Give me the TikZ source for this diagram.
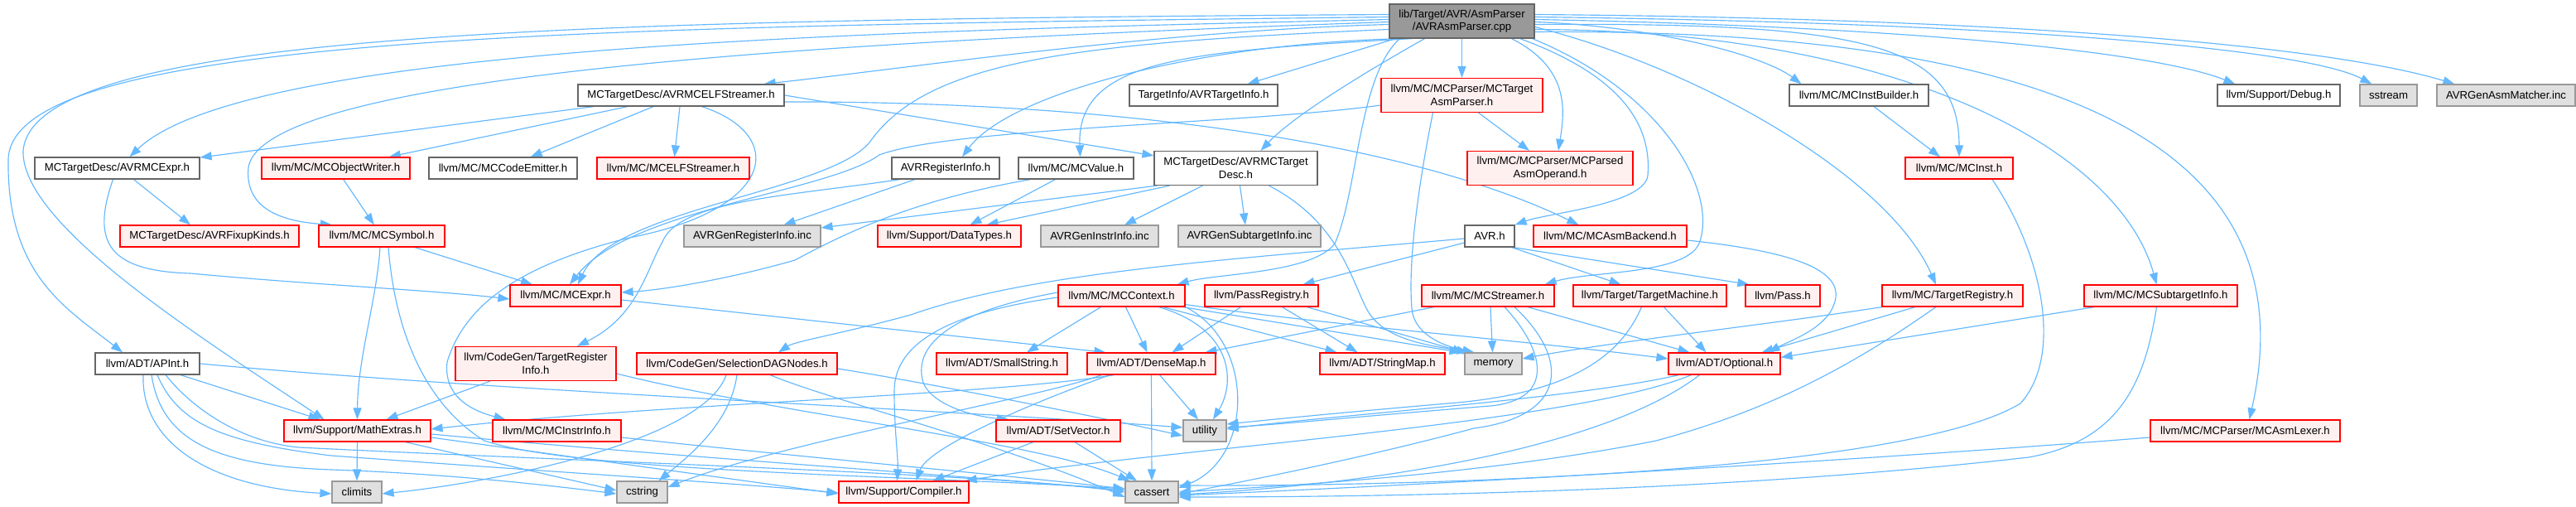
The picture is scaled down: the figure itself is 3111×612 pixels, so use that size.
\documentclass[tikz,border=0pt]{standalone}
\usepackage{fontspec}
\setmainfont{Liberation Sans}
\usetikzlibrary{arrows.meta}
\definecolor{cedge}{HTML}{63B8FF}
\definecolor{cred}{HTML}{FF0000}
\definecolor{cpink}{HTML}{FFF0F0}
\definecolor{cgrayf}{HTML}{E0E0E0}
\definecolor{cgrayb}{HTML}{999999}
\definecolor{cdark}{HTML}{666666}
\pgfdeclarelayer{bgfill}
\pgfdeclarelayer{bg}
\pgfsetlayers{bgfill,bg,main}
\tikzset{
 nd/.style={draw=cdark, fill=white, line width=1.2pt, minimum height=26pt, inner sep=2pt, align=center, font=\fontsize{13.2pt}{15.5pt}\selectfont},
 rd/.style={nd, draw=cred, fill=cpink},
 gy/.style={nd, draw=cgrayb, fill=cgrayf},
 tp/.style={nd, draw=cdark, fill=cgrayb},
 two/.style={minimum height=41pt},
 edg/.style={draw=cedge, line width=1.15pt, -{Triangle[length=14pt,width=10pt]}},
}
\begin{document}
\begin{tikzpicture}[x=1pt,y=1pt]
\begin{pgfonlayer}{bgfill}
\fill[white] (0,0) rectangle (3111,612);
\end{pgfonlayer}
\useasboundingbox (0,0) rectangle (3111,612);
% row 0
\node[tp,two,minimum width=175pt] (top) at (1765.5,586.5) {lib/Target/AVR/AsmParser\\/AVRAsmParser.cpp};
% row 1
\node[nd,minimum width=249pt] (elf) at (822.5,497) {MCTargetDesc/AVRMCELFStreamer.h};
\node[nd,minimum width=179pt] (tinfo) at (1453.5,497) {TargetInfo/AVRTargetInfo.h};
\node[rd,two,minimum width=195pt] (tap) at (1765.5,497) {llvm/MC/MCParser/MCTarget\\AsmParser.h};
\node[nd,minimum width=168pt] (ib) at (2245,497) {llvm/MC/MCInstBuilder.h};
\node[nd,minimum width=148pt] (dbg) at (2752,497) {llvm/Support/Debug.h};
\node[gy,minimum width=69pt] (sstream) at (2884.5,497) {sstream};
\node[gy,minimum width=167pt] (asmm) at (3026.5,497) {AVRGenAsmMatcher.inc};
% row 2
\node[nd,minimum width=199pt] (avrexpr) at (141.5,409) {MCTargetDesc/AVRMCExpr.h};
\node[rd,minimum width=179pt] (objw) at (405.5,409) {llvm/MC/MCObjectWriter.h};
\node[nd,minimum width=179pt] (cemit) at (607.5,409) {llvm/MC/MCCodeEmitter.h};
\node[rd,minimum width=184pt] (elfs) at (813,409) {llvm/MC/MCELFStreamer.h};
\node[nd,minimum width=130pt] (reginfo) at (1142,409) {AVRRegisterInfo.h};
\node[nd,minimum width=139pt] (mcvalue) at (1299.5,409) {llvm/MC/MCValue.h};
\node[nd,two,minimum width=197pt] (tdesc) at (1492.5,409) {MCTargetDesc/AVRMCTarget\\Desc.h};
\node[rd,two,minimum width=200pt] (pao) at (1872,409) {llvm/MC/MCParser/MCParsed\\AsmOperand.h};
\node[rd,minimum width=130pt] (mcinst) at (2366,409) {llvm/MC/MCInst.h};
% row 3
\node[rd,minimum width=216pt] (fixk) at (253,327) {MCTargetDesc/AVRFixupKinds.h};
\node[rd,minimum width=152pt] (mcsym) at (461,327) {llvm/MC/MCSymbol.h};
\node[gy,minimum width=165pt] (genreg) at (908.5,327) {AVRGenRegisterInfo.inc};
\node[rd,minimum width=173pt] (dtypes) at (1146.5,327) {llvm/Support/DataTypes.h};
\node[gy,minimum width=142pt] (geninstr) at (1328,327) {AVRGenInstrInfo.inc};
\node[gy,minimum width=172pt] (gensub) at (1509,327) {AVRGenSubtargetInfo.inc};
\node[nd,minimum width=60pt] (avr) at (1799,327) {AVR.h};
\node[rd,minimum width=185pt] (asmb) at (1944.5,327) {llvm/MC/MCAsmBackend.h};
% row 4
\node[rd,minimum width=134pt] (mcexpr) at (683,255) {llvm/MC/MCExpr.h};
\node[rd,minimum width=153pt] (ctx) at (1354.5,255) {llvm/MC/MCContext.h};
\node[rd,minimum width=137pt] (passreg) at (1523.5,255) {llvm/PassRegistry.h};
\node[rd,minimum width=160pt] (streamer) at (1797,255) {llvm/MC/MCStreamer.h};
\node[rd,minimum width=185pt] (tm) at (1992.5,255) {llvm/Target/TargetMachine.h};
\node[rd,minimum width=90pt] (pass) at (2153,255) {llvm/Pass.h};
\node[rd,minimum width=170pt] (treg) at (2358,255) {llvm/MC/TargetRegistry.h};
\node[rd,minimum width=185pt] (subti) at (2609.5,255) {llvm/MC/MCSubtargetInfo.h};
% row 5
\node[nd,minimum width=126pt] (apint) at (178,173) {llvm/ADT/APInt.h};
\node[rd,two,minimum width=194pt] (treginfo) at (647,173) {llvm/CodeGen/TargetRegister\\Info.h};
\node[rd,minimum width=242pt] (sdag) at (890,173) {llvm/CodeGen/SelectionDAGNodes.h};
\node[rd,minimum width=158pt] (smallstr) at (1210,173) {llvm/ADT/SmallString.h};
\node[rd,minimum width=155pt] (dmap) at (1390.5,173) {llvm/ADT/DenseMap.h};
\node[rd,minimum width=151pt] (strmap) at (1669.5,173) {llvm/ADT/StringMap.h};
\node[gy,minimum width=69pt] (memory) at (1803.5,173) {memory};
\node[rd,minimum width=135pt] (optional) at (2082.5,173) {llvm/ADT/Optional.h};
% row 6
\node[rd,minimum width=177pt] (mathx) at (431.5,92) {llvm/Support/MathExtras.h};
\node[rd,minimum width=155pt] (instrinfo) at (672.5,92) {llvm/MC/MCInstrInfo.h};
\node[rd,minimum width=150pt] (setvec) at (1278,92) {llvm/ADT/SetVector.h};
\node[gy,minimum width=52pt] (utility) at (1455,92) {utility};
\node[rd,minimum width=229pt] (lexer) at (2711.5,92) {llvm/MC/MCParser/MCAsmLexer.h};
% row 7
\node[gy,minimum width=60pt] (climits) at (431,18) {climits};
\node[gy,minimum width=61pt] (cstring) at (775.5,18) {cstring};
\node[rd,minimum width=157pt] (compiler) at (1091.5,18) {llvm/Support/Compiler.h};
\node[gy,minimum width=64pt] (cassert) at (1391,18) {cassert};

\begin{pgfonlayer}{bg}
% ---- top node
\draw[edg] ([yshift=8pt]top.east) .. controls (2400,590) and (2800,560) .. ([xshift=22pt]asmm.north west);
\draw[edg] ([yshift=5pt]top.east) .. controls (2400,585) and (2780,555) .. ([xshift=15pt]sstream.north west);
\draw[edg] ([yshift=2pt]top.east) .. controls (2300,580) and (2600,550) .. ([xshift=22pt]dbg.north west);
\draw[edg] ([yshift=-1pt]top.east) .. controls (2000,580) and (2130,545) .. ([xshift=15pt]ib.north west);
\draw[edg] ([yshift=-4pt]top.east) .. controls (2250,585) and (2366,560) .. (mcinst.north);
\draw[edg] ([yshift=-7pt]top.east) .. controls (2050,530) and (2280,400) .. ([xshift=-20pt]treg.north);
\draw[edg] ([yshift=-10pt]top.east) .. controls (2300,575) and (2560,430) .. ([xshift=-5pt]subti.north);
\draw[edg] ([yshift=-13pt]top.east) .. controls (2500,578) and (2790,430) .. ([xshift=5pt]lexer.north);
\draw[edg] ([yshift=-4pt]top.west) .. controls (1400,575) and (1100,530) .. ([xshift=-25pt]elf.north east);
\draw[edg] ([yshift=2pt]top.west) .. controls (1100,575) and (300,560) .. ([xshift=15pt]avrexpr.north);
\draw[edg] ([yshift=5pt]top.west) .. controls (700,580) and (15,570) .. (10,420) .. controls (8,280) and (80,240) .. ([xshift=-30pt]apint.north);
\draw[edg] ([yshift=8pt]top.west) .. controls (700,588) and (40,575) .. (28,430) .. controls (25,340) and (250,200) .. ([xshift=-40pt]mathx.north);
\draw[edg] ([yshift=-1pt]top.west) .. controls (1100,565) and (320,530) .. (300,410) .. controls (295,360) and (340,345) .. ([xshift=-60pt]mcsym.north);
\draw[edg] ([yshift=-10pt]top.west) .. controls (1300,560) and (1120,540) .. (1050,440) .. controls (1000,380) and (740,360) .. ([xshift=15pt]mcexpr.north);
\draw[edg] ([xshift=-70pt]top.south) .. controls (1450,560) and (1220,500) .. ([xshift=20pt]reginfo.north);
\draw[edg] ([xshift=-60pt]top.south) .. controls (1430,550) and (1300,540) .. ([xshift=5pt]mcvalue.north);
\draw[edg] ([xshift=-45pt]top.south) .. controls (1640,520) and (1560,470) .. ([xshift=30pt]tdesc.north);
\draw[edg] ([xshift=-80pt]top.south) -- ([xshift=53pt]tinfo.north);
\draw[edg] (top.south) -- (tap.north);
\draw[edg] ([xshift=60pt]top.south) .. controls (1895,530) and (1890,480) .. ([xshift=10pt]pao.north);
\draw[edg] ([xshift=70pt]top.south) .. controls (1960,520) and (1995,460) .. (1990,400) .. controls (1985,365) and (1870,355) .. (avr.north east);
\draw[edg] ([xshift=85pt]top.south) .. controls (2010,500) and (2075,380) .. (2052,318) .. controls (2035,280) and (1920,285) .. ([xshift=-12pt]streamer.north east);
\draw[edg] ([xshift=-75pt]top.south) .. controls (1640,520) and (1640,380) .. (1612,318) .. controls (1585,282) and (1470,282) .. ([xshift=-10pt]ctx.north east);
% ---- AVRMCELFStreamer
\draw[edg] (elf) -- (avrexpr);
\draw[edg] (elf) -- (objw);
\draw[edg] (elf) -- (cemit);
\draw[edg] (elf) -- (elfs);
\draw[edg] (elf.east) -- ([yshift=-6pt]tdesc.north west);
\draw[edg] ([yshift=-8pt]elf.east) .. controls (1300,490) and (1680,450) .. ([xshift=55pt]asmb.north west);
\draw[edg] ([xshift=25pt]elf.south) .. controls (950,450) and (940,360) .. (760,325) .. controls (620,290) and (560,240) .. (540,175) .. controls (535,130) and (575,115) .. ([xshift=-62pt]instrinfo.north);
% ---- AVRMCExpr, ObjectWriter
\draw[edg] ([xshift=20pt]avrexpr.south) -- ([xshift=-23pt]fixk.north);
\draw[edg] ([xshift=-5pt]avrexpr.south) .. controls (110,320) and (130,285) .. (230,282) .. controls (380,268) and (520,262) .. ([yshift=-4pt]mcexpr.west);
\draw[edg] (objw) -- (mcsym);
% ---- AVRRegisterInfo, MCValue
\draw[edg] ([xshift=-37pt]reginfo.south) -- ([xshift=38pt]genreg.north);
\draw[edg] ([xshift=-55pt]reginfo.south) .. controls (950,375) and (820,370) .. (800,320) .. controls (780,285) and (770,230) .. ([xshift=50pt]treginfo.north);
\draw[edg] ([xshift=-25pt]mcvalue.south) -- ([xshift=25pt]dtypes.north);
\draw[edg] ([xshift=-55pt]mcvalue.south) .. controls (1100,370) and (1020,330) .. (960,298) .. controls (880,275) and (800,262) .. ([yshift=4pt]mcexpr.east);
% ---- AVRMCTargetDesc
\draw[edg] ([xshift=-80pt]tdesc.south) -- ([xshift=45pt]dtypes.north);
\draw[edg] ([xshift=-95pt]tdesc.south) -- ([yshift=10pt]genreg.east);
\draw[edg] ([xshift=-40pt]tdesc.south) -- ([xshift=30pt]geninstr.north);
\draw[edg] ([xshift=5pt]tdesc.south) -- ([xshift=-5pt]gensub.north);
\draw[edg] ([xshift=40pt]tdesc.south) .. controls (1615,345) and (1630,280) .. (1650,240) .. controls (1670,200) and (1730,195) .. ([xshift=5pt]memory.north west);
% ---- MCTargetAsmParser
\draw[edg] ([xshift=20pt]tap.south) -- ([xshift=-25pt]pao.north);
\draw[edg] ([xshift=-35pt]tap.south) .. controls (1715,400) and (1700,300) .. (1705,240) .. controls (1707,210) and (1740,195) .. ([xshift=12pt]memory.north west);
\draw[edg] ([yshift=-12pt]tap.west) .. controls (1500,462) and (1150,458) .. (1062,425) .. controls (1000,380) and (760,360) .. ([xshift=5pt]mcexpr.north);
% ---- MCInst, MCInstBuilder
\draw[edg] ([xshift=40pt]mcinst.south) .. controls (2470,300) and (2490,180) .. (2440,125) .. controls (2300,40) and (1700,25) .. ([yshift=8pt]cassert.east);
\draw[edg] ([xshift=18pt]ib.south) -- ([xshift=-23pt]mcinst.north);
% ---- AVR.h, MCAsmBackend
\draw[edg] ([yshift=-8pt]avr.west) -- ([xshift=50pt]passreg.north);
\draw[edg] ([yshift=-3pt]avr.west) .. controls (1500,300) and (1250,285) .. (1100,232) .. controls (1020,210) and (960,200) .. ([xshift=50pt]sdag.north);
\draw[edg] ([xshift=-4pt]avr.south east) -- ([xshift=-35pt]tm.north);
\draw[edg] ([xshift=-2pt]avr.south east) -- ([xshift=5pt]pass.north west);
\draw[edg] ([yshift=-5pt]asmb.east) .. controls (2150,310) and (2232,290) .. (2215,245) .. controls (2205,215) and (2160,200) .. ([xshift=-15pt]optional.north east);
% ---- MCSymbol, MCExpr
\draw[edg] ([xshift=40pt]mcsym.south) -- ([xshift=-40pt]mcexpr.north);
\draw[edg] ([xshift=-2pt]mcsym.south) .. controls (455,250) and (432,180) .. (mathx.north);
\draw[edg] ([xshift=8pt]mcsym.south) .. controls (478,200) and (520,120) .. (585,80) .. controls (700,42) and (1100,38) .. ([yshift=4pt]cassert.west);
\draw[edg] ([yshift=-5pt]mcexpr.east) -- ([xshift=-55pt]dmap.north);
% ---- MCContext
\draw[edg] ([xshift=-25pt]ctx.south) -- ([xshift=30pt]smallstr.north);
\draw[edg] ([xshift=5pt]ctx.south) -- ([xshift=-5pt]dmap.north);
\draw[edg] ([xshift=50pt]ctx.south) -- ([xshift=-55pt]strmap.north);
\draw[edg] ([xshift=-3pt]ctx.south east) -- ([xshift=-4pt]memory.north west);
\draw[edg] ([yshift=3pt]ctx.south east) .. controls (1600,220) and (1850,200) .. ([yshift=6pt]optional.west);
\draw[edg] ([xshift=45pt]ctx.south) .. controls (1490,215) and (1492,150) .. ([xshift=10pt]utility.north);
\draw[edg] (ctx.south east) .. controls (1515,200) and (1515,60) .. ([yshift=5pt]cassert.east);
\draw[edg] ([yshift=-2pt]ctx.west) .. controls (1150,235) and (1080,200) .. (1080,140) .. controls (1080,90) and (1085,60) .. ([xshift=-8pt]compiler.north);
\draw[edg] ([yshift=4pt]ctx.west) .. controls (1160,238) and (1100,200) .. (1115,150) .. controls (1125,125) and (1170,110) .. ([xshift=-60pt]setvec.north);
% ---- PassRegistry
\draw[edg] ([xshift=-25pt]passreg.south) -- ([xshift=25pt]dmap.north);
\draw[edg] ([xshift=25pt]passreg.south) -- ([xshift=-30pt]strmap.north);
\draw[edg] ([xshift=55pt]passreg.south) -- (memory.north west);
% ---- MCStreamer
\draw[edg] ([xshift=-65pt]streamer.south) -- ([xshift=65pt]dmap.north);
\draw[edg] ([xshift=3pt]streamer.south) -- ([xshift=-1pt]memory.north);
\draw[edg] ([xshift=20pt]streamer.south) .. controls (1865,190) and (1880,130) .. (1800,122) .. controls (1650,110) and (1550,100) .. ([yshift=4pt]utility.east);
\draw[edg] ([xshift=32pt]streamer.south) .. controls (1895,180) and (1895,110) .. (1780,95) .. controls (1650,60) and (1500,30) .. ([yshift=-2pt]cassert.east);
\draw[edg] ([xshift=48pt]streamer.south) -- ([xshift=-42pt]optional.north);
% ---- TargetMachine
\draw[edg] ([xshift=17pt]tm.south) -- ([xshift=-22pt]optional.north);
\draw[edg] ([xshift=-10pt]tm.south) .. controls (1960,190) and (1910,140) .. (1760,126) .. controls (1620,114) and (1540,106) .. ([yshift=8pt]utility.east);
% ---- TargetRegistry, MCSubtargetInfo, MCAsmLexer
\draw[edg] ([xshift=-45pt]treg.south) -- ([xshift=45pt]optional.north);
\draw[edg] (treg.south west) .. controls (2150,222) and (1950,200) .. ([yshift=6pt]memory.east);
\draw[edg] ([xshift=-20pt]treg.south) .. controls (2250,180) and (2150,120) .. (2000,80) .. controls (1800,40) and (1550,25) .. (cassert.east);
\draw[edg] ([xshift=-80pt]subti.south) -- ([yshift=-6pt]optional.north east);
\draw[edg] ([xshift=-5pt]subti.south) .. controls (2590,150) and (2560,80) .. (2450,60) .. controls (2100,20) and (1700,12) .. ([yshift=-6pt]cassert.east);
\draw[edg] ([yshift=-8pt]lexer.west) .. controls (2300,60) and (1800,30) .. ([yshift=-4pt]cassert.east);
% ---- APInt
\draw[edg] ([xshift=-5pt]apint.south) .. controls (170,80) and (250,24) .. ([yshift=-2pt]climits.west);
\draw[edg] ([xshift=5pt]apint.south) .. controls (195,80) and (260,50) .. (400,45) .. controls (550,40) and (680,24) .. ([yshift=-2pt]cstring.west);
\draw[edg] ([xshift=12pt]apint.south) .. controls (215,100) and (270,78) .. (400,62) .. controls (700,40) and (900,28) .. ([yshift=-1pt]compiler.west);
\draw[edg] ([xshift=22pt]apint.south) .. controls (240,110) and (300,78) .. (360,72) .. controls (700,55) and (1200,40) .. (cassert.west);
\draw[edg] ([xshift=40pt]apint.south) -- ([xshift=-45pt]mathx.north);
\draw[edg] (apint.east) .. controls (600,140) and (1100,120) .. ([yshift=4pt]utility.west);
% ---- MathExtras, MCInstrInfo, TargetRegisterInfo
\draw[edg] (mathx.south) -- (climits.north);
\draw[edg] ([xshift=58pt]mathx.south) -- ([yshift=2pt]cstring.west);
\draw[edg] ([yshift=-8pt]mathx.east) -- ([yshift=-2pt]compiler.west);
\draw[edg] ([yshift=-4pt]mathx.east) .. controls (800,62) and (1200,35) .. ([yshift=2pt]cassert.west);
\draw[edg] ([yshift=-8pt]instrinfo.east) .. controls (950,62) and (1200,40) .. ([yshift=4pt]cassert.west);
\draw[edg] ([xshift=-55pt]treginfo.south) -- ([xshift=35pt]mathx.north);
\draw[edg] ([yshift=-12pt]treginfo.east) .. controls (950,110) and (1250,80) .. ([xshift=6pt]cassert.north west);
% ---- SelectionDAGNodes
\draw[edg] ([xshift=-13pt]sdag.south) .. controls (850,80) and (600,30) .. ([yshift=-2pt]climits.east);
\draw[edg] (sdag.south) .. controls (882,100) and (830,60) .. ([xshift=20pt]cstring.north);
\draw[edg] ([xshift=40pt]sdag.south) .. controls (1000,130) and (1200,80) .. ([yshift=-6pt]cassert.west);
\draw[edg] ([yshift=-6pt]sdag.east) .. controls (1120,150) and (1320,110) .. ([yshift=-6pt]utility.west);
% ---- DenseMap
\draw[edg] ([xshift=-45pt]dmap.south) .. controls (1200,135) and (800,125) .. ([yshift=2pt]mathx.east);
\draw[edg] ([xshift=-50pt]dmap.south) .. controls (1230,120) and (1120,70) .. ([xshift=15pt]compiler.north);
\draw[edg] (dmap.south) -- (cassert.north);
\draw[edg] ([xshift=10pt]dmap.south) -- ([xshift=-8pt]utility.north);
\draw[edg] ([xshift=-60pt]dmap.south) .. controls (1250,130) and (950,80) .. ([yshift=6pt]cstring.east);
% ---- SetVector, Optional
\draw[edg] ([xshift=-30pt]setvec.south) -- ([xshift=35pt]compiler.north);
\draw[edg] ([xshift=20pt]setvec.south) -- ([xshift=-18pt]cassert.north);
\draw[edg] ([xshift=-55pt]optional.south) .. controls (1900,130) and (1600,110) .. ([yshift=2pt]utility.east);
\draw[edg] ([xshift=-30pt]optional.south) .. controls (1950,80) and (1700,30) .. ([yshift=-3pt]cassert.east);
\draw[edg] ([xshift=-40pt]optional.south) .. controls (1900,100) and (1400,70) .. ([xshift=-5pt]compiler.north east);
\end{pgfonlayer}
\end{tikzpicture}
\end{document}
